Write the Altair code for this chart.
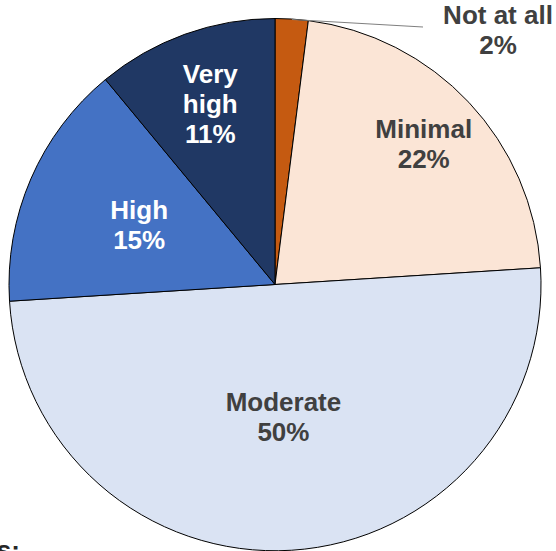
import altair as alt
import pandas as pd

# Survey responses, clockwise from 12 o'clock
categories = ["Not at all", "Minimal", "Moderate", "High", "Very high"]
shares = [2, 22, 50, 15, 11]
colors = ["#C55A11", "#FBE5D6", "#DAE3F3", "#4472C4", "#203864"]

# Distance of each inside label from the pie centre (px); the first
# category is labelled outside with a leader line instead.
label_radius = [0, 204, 134, 148, 191]

CX, CY, R = 275, 284.5, 266
FONT = "Liberation Sans"
LINE_H = 30

labels_txt = ["" if i == 0 else f"{c.replace(' ', chr(10))}\n{s}%"
              for i, (c, s) in enumerate(zip(categories, shares))]

df = pd.DataFrame({
    "category": categories,
    "share": shares,
    "order": list(range(len(categories))),
    "label": labels_txt,
    "lines": [t.count("\n") + 1 for t in labels_txt],
    "label_r": label_radius,
})

center = dict(x=alt.value(CX), y=alt.value(CY))

pie = alt.Chart(df).mark_arc(radius=R, stroke="#000000", strokeWidth=1).encode(
    theta=alt.Theta("share:Q", stack=True),
    order=alt.Order("order:Q"),
    color=alt.Color("category:N", sort=categories,
                    scale=alt.Scale(domain=categories, range=colors),
                    legend=None),
    **center,
)

# Labels sit at the angular midpoint of their slice (radians, clockwise
# from 12 o'clock); white text on the two dark slices, dark grey elsewhere
label_base = alt.Chart(df).transform_window(
    cum="sum(share)", sort=[alt.SortField("order")], frame=[None, 0]
).transform_joinaggregate(
    total="sum(share)"
).transform_calculate(
    mid="2 * PI * (datum.cum - datum.share / 2) / datum.total"
)


def label_layer(n_lines):
    # shift multi-line blocks up so the whole block is centred on its anchor
    return label_base.transform_filter(f"datum.lines == {n_lines}").mark_text(
        font=FONT, fontSize=26, fontWeight="bold", lineBreak="\n",
        lineHeight=LINE_H, align="center", baseline="middle",
        dy=-(n_lines - 1) * LINE_H / 2,
    ).encode(
        theta=alt.Theta("mid:Q", scale=None, stack=False),
        radius=alt.Radius("label_r:Q", scale=None),
        text="label:N",
        color=alt.condition("datum.order >= 3", alt.value("#FFFFFF"),
                            alt.value("#404040")),
        **center,
    )


# Outside callout for the smallest slice
callout_df = pd.DataFrame({"label": [f"{categories[0]}\n{shares[0]}%"]})
callout = alt.Chart(callout_df).mark_text(
    font=FONT, fontSize=26, fontWeight="bold", lineBreak="\n",
    lineHeight=LINE_H, align="center", baseline="middle", color="#404040",
    dy=-LINE_H / 2,
).encode(text="label:N", x=alt.value(498), y=alt.value(31))

leader = alt.Chart(callout_df).mark_rule(color="#7F7F7F", strokeWidth=1).encode(
    x=alt.value(292), y=alt.value(19.5), x2=alt.value(423), y2=alt.value(27),
)

# Footnote heading running off the bottom edge
note = alt.Chart(pd.DataFrame({"t": ["Notes:"]})).mark_text(
    font=FONT, fontSize=26, fontWeight="bold", align="right",
    baseline="alphabetic", color="#262626",
).encode(text="t:N", x=alt.value(20), y=alt.value(559))

chart = alt.layer(
    pie, label_layer(2), label_layer(3), leader, callout, note
).properties(
    width=556, height=551, padding=0,
    autosize=alt.AutoSizeParams(type="none"),
).configure_view(stroke=None)

chart.save("out.html", embed_options={"renderer": "svg", "actions": False})
